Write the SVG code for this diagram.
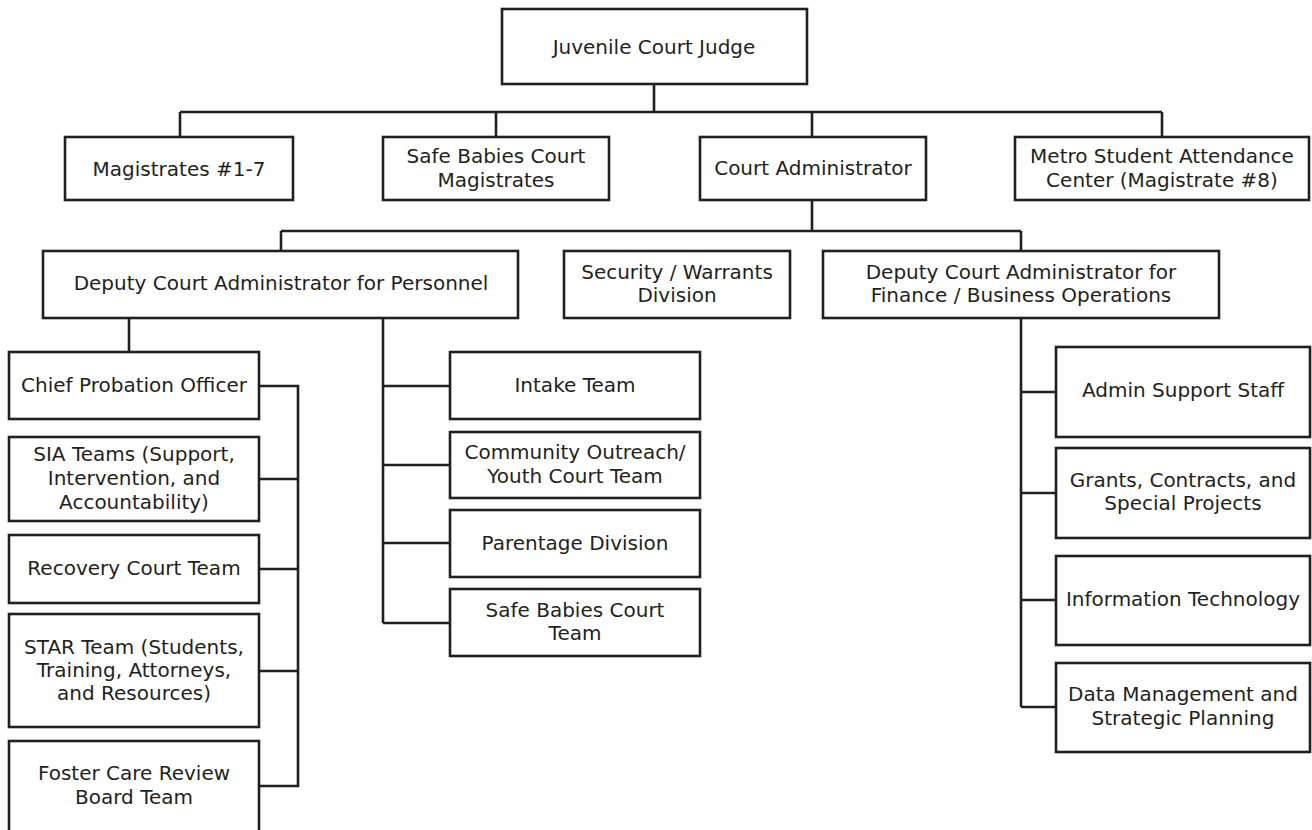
<svg xmlns="http://www.w3.org/2000/svg" width="1312" height="830" viewBox="0 0 1312 830">
<style>
.box{fill:#fff;stroke:#231f20;stroke-width:2.6}
.con{fill:none;stroke:#231f20;stroke-width:2.6}
text{font-family:"DejaVu Sans","Verdana",sans-serif;font-size:20px;fill:#231f20;text-anchor:middle}
</style>
<rect width="1312" height="830" fill="#fff"/>
<g id="connectors">
<path class="con" d="M654,84V112M180,112H1162M180,112V137M496,112V137M812,112V137M1162,112V137"/>
<path class="con" d="M812,200V231M281,231H1021M281,231V251M1021,231V251"/>
<path class="con" d="M129,318V352M383,318V623M383,386H450M383,465H450M383,543H450M383,623H450"/>
<path class="con" d="M259,386H298V786H259M259,479H298M259,569H298M259,671H298"/>
<path class="con" d="M1021,318V707M1021,392H1056M1021,493H1056M1021,600H1056M1021,707H1056"/>
</g>
<g id="judge"><rect class="box" x="502" y="9" width="305" height="75"/><text x="654" y="54">Juvenile Court Judge</text></g>
<g id="magistrates"><rect class="box" x="65" y="137" width="228" height="63"/><text x="179" y="176">Magistrates #1-7</text></g>
<g id="safe-babies-magistrates"><rect class="box" x="383" y="137" width="226" height="63"/><text x="496" y="163">Safe Babies Court</text><text x="496" y="187">Magistrates</text></g>
<g id="court-administrator"><rect class="box" x="700" y="137" width="226" height="63"/><text x="813" y="175">Court Administrator</text></g>
<g id="metro"><rect class="box" x="1015" y="137" width="294" height="63"/><text x="1162" y="163">Metro Student Attendance</text><text x="1162" y="187">Center (Magistrate #8)</text></g>
<g id="deputy-personnel"><rect class="box" x="43" y="251" width="475" height="67"/><text x="281" y="290">Deputy Court Administrator for Personnel</text></g>
<g id="security"><rect class="box" x="564" y="251" width="226" height="67"/><text x="677" y="279">Security / Warrants</text><text x="677" y="302">Division</text></g>
<g id="deputy-finance"><rect class="box" x="823" y="251" width="396" height="67"/><text x="1021" y="279">Deputy Court Administrator for</text><text x="1021" y="302">Finance / Business Operations</text></g>
<g id="chief-probation"><rect class="box" x="9" y="352" width="250" height="67"/><text x="134" y="392">Chief Probation Officer</text></g>
<g id="sia"><rect class="box" x="9" y="437" width="250" height="84"/><text x="134" y="461">SIA Teams (Support,</text><text x="134" y="485">Intervention, and</text><text x="134" y="509">Accountability)</text></g>
<g id="recovery"><rect class="box" x="9" y="535" width="250" height="68"/><text x="134" y="575">Recovery Court Team</text></g>
<g id="star"><rect class="box" x="9" y="614" width="250" height="113"/><text x="134" y="654">STAR Team (Students,</text><text x="134" y="677">Training, Attorneys,</text><text x="134" y="700">and Resources)</text></g>
<g id="foster"><rect class="box" x="9" y="741" width="250" height="115"/><text x="134" y="780">Foster Care Review</text><text x="134" y="804">Board Team</text></g>
<g id="intake"><rect class="box" x="450" y="352" width="250" height="67"/><text x="575" y="392">Intake Team</text></g>
<g id="community"><rect class="box" x="450" y="432" width="250" height="66"/><text x="575" y="459">Community Outreach/</text><text x="575" y="483">Youth Court Team</text></g>
<g id="parentage"><rect class="box" x="450" y="510" width="250" height="67"/><text x="575" y="550">Parentage Division</text></g>
<g id="safe-babies-team"><rect class="box" x="450" y="589" width="250" height="67"/><text x="575" y="617">Safe Babies Court</text><text x="575" y="640">Team</text></g>
<g id="admin-support"><rect class="box" x="1056" y="347" width="254" height="90"/><text x="1183" y="397">Admin Support Staff</text></g>
<g id="grants"><rect class="box" x="1056" y="448" width="254" height="90"/><text x="1183" y="487">Grants, Contracts, and</text><text x="1183" y="510">Special Projects</text></g>
<g id="it"><rect class="box" x="1056" y="556" width="254" height="89"/><text x="1183" y="606">Information Technology</text></g>
<g id="data"><rect class="box" x="1056" y="663" width="254" height="89"/><text x="1183" y="701">Data Management and</text><text x="1183" y="725">Strategic Planning</text></g>
</svg>
